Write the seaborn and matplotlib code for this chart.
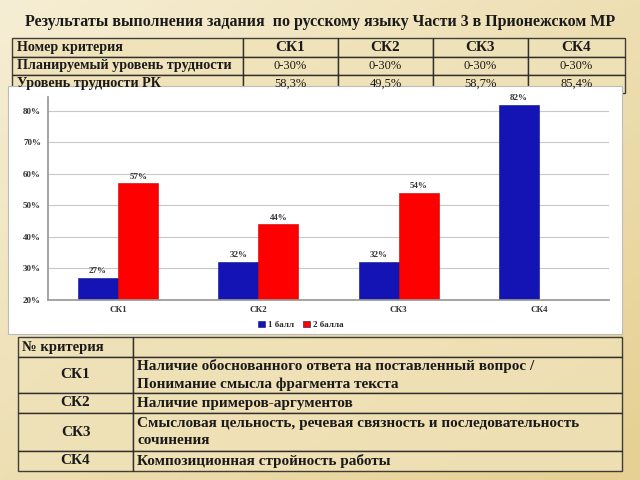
import numpy as np
import pandas as pd
import matplotlib
matplotlib.use("Agg")
import matplotlib.pyplot as plt
import seaborn as sns
from matplotlib.patches import Rectangle

sns.set_theme(style="white")
plt.rcParams['font.family'] = ['Liberation Serif', 'DejaVu Serif']

# ---- data ----
title = "Результаты выполнения задания  по русскому языку Части 3 в Прионежском МР"
categories = ["СК1", "СК2", "СК3", "СК4"]
series_names = ["1 балл", "2 балла"]
ball1 = [27, 32, 32, 82]
ball2 = [57, 44, 54, np.nan]
y_ticks = [20, 30, 40, 50, 60, 70, 80]

top_header = ["Номер критерия", "СК1", "СК2", "СК3", "СК4"]
top_planned = ["Планируемый уровень трудности", "0-30%", "0-30%", "0-30%", "0-30%"]
top_actual = ["Уровень трудности РК", "58,3%", "49,5%", "58,7%", "85,4%"]

bottom_header = ["№ критерия", ""]
crit_codes = ["СК1", "СК2", "СК3", "СК4"]
crit_desc = ["Наличие обоснованного ответа на поставленный вопрос /\nПонимание смысла фрагмента текста",
             "Наличие примеров-аргументов",
             "Смысловая цельность, речевая связность и последовательность\nсочинения",
             "Композиционная стройность работы"]

W, H = 640, 480
fig = plt.figure(figsize=(6.4, 4.8), dpi=100)

# background gradient
bg = fig.add_axes([0, 0, 1, 1])
xx, yy = np.meshgrid(np.linspace(0, 1, 200), np.linspace(0, 1, 200))
t = np.clip((xx * 0.5 + yy * 0.5), 0, 1)
c0 = np.array([246, 238, 212]) / 255
c1 = np.array([230, 208, 146]) / 255
img = c0[None, None, :] * (1 - t[..., None]) + c1[None, None, :] * t[..., None]
bg.imshow(img, extent=[0, W, H, 0], aspect='auto')
bg.set_xlim(0, W)
bg.set_ylim(H, 0)
bg.axis('off')

ink = "#1a1a1a"
bg.text(320, 22, title, ha='center', va='center', fontsize=11.5, fontweight='bold', color=ink)

# top table
cols = [12, 243, 338, 433, 528, 625]
rows = [38, 57, 75, 93]
cell_fill = "#f0e2b8"
for r, rowvals in enumerate([top_header, top_planned, top_actual]):
    for c in range(5):
        x0, x1 = cols[c], cols[c + 1]
        y0, y1 = rows[r], rows[r + 1]
        bg.add_patch(Rectangle((x0, y0), x1 - x0, y1 - y0, facecolor=cell_fill,
                               edgecolor="#222222", lw=1.0, alpha=0.85))
        if c == 0:
            bg.text(x0 + 5, (y0 + y1) / 2, rowvals[c], ha='left', va='center',
                    fontsize=10.2, fontweight='bold', color=ink)
        else:
            fs = 11 if r == 0 else 9
            bg.text((x0 + x1) / 2, (y0 + y1) / 2, rowvals[c], ha='center', va='center',
                    fontsize=fs, fontweight='bold' if r == 0 else 'normal', color=ink)

# bottom table
bcols = [18, 133, 622]
brows = [337, 357, 393, 413, 451, 471]
for r in range(5):
    y0, y1 = brows[r], brows[r + 1]
    if r == 0:
        texts = bottom_header
    else:
        texts = [crit_codes[r - 1], crit_desc[r - 1]]
    for c in range(2):
        x0, x1 = bcols[c], bcols[c + 1]
        bg.add_patch(Rectangle((x0, y0), x1 - x0, y1 - y0, facecolor=cell_fill,
                               edgecolor="#222222", lw=1.0, alpha=0.85))
    if r == 0:
        bg.text(bcols[0] + 4, (y0 + y1) / 2, texts[0], ha='left', va='center',
                fontsize=10.5, fontweight='bold', color=ink)
    else:
        bg.text((bcols[0] + bcols[1]) / 2, (y0 + y1) / 2, texts[0], ha='center', va='center',
                fontsize=11, fontweight='bold', color=ink)
        bg.text(bcols[1] + 4, (y0 + y1) / 2, texts[1], ha='left', va='center',
                fontsize=11, fontweight='bold', color=ink, linespacing=1.35)

# white chart panel
bg.add_patch(Rectangle((8, 86), 614, 248, facecolor='white', edgecolor='#bbbbbb', lw=0.8))

# chart
df = pd.DataFrame({
    "cat": categories * 2,
    "series": [series_names[0]] * 4 + [series_names[1]] * 4,
    "value": ball1 + ball2,
})
ax = fig.add_axes([48 / W, 1 - 300 / H, (609 - 48) / W, (300 - 97) / H])
sns.barplot(data=df, x="cat", y="value", hue="series", order=categories,
            hue_order=series_names, palette=["#1414b4", "#ff0000"],
            width=0.572, saturation=1, ax=ax, edgecolor="#0a0a80", linewidth=0.4)
for cont, col in zip(ax.containers, ["#0a0a80", "#c00000"]):
    for p in cont:
        p.set_edgecolor(col)
ax.set_ylim(20, 84.4)
ax.set_xlim(-0.5, 3.5)
ax.set_yticks(y_ticks)
ax.set_yticklabels([f"{v}%" for v in y_ticks], fontsize=6.5, fontweight='bold', color='#333333')
ax.tick_params(axis='x', labelsize=6.5, colors='#333333', length=0, pad=4)
for lbl in ax.get_xticklabels():
    lbl.set_fontweight('bold')
ax.tick_params(axis='y', length=3, pad=2, colors='#333333')
ax.yaxis.grid(True, color='#c8c8c8', lw=0.8)
ax.set_axisbelow(True)
for s in ['top', 'right']:
    ax.spines[s].set_visible(False)
ax.spines['left'].set_color('#999999')
ax.spines['bottom'].set_color('#999999')
ax.set_xlabel("")
ax.set_ylabel("")
for cont in ax.containers:
    labels = ["" if np.isnan(v) else f"{v:.0f}%" for v in cont.datavalues]
    ax.bar_label(cont, labels=labels, fontsize=6.5, fontweight='bold', color='#333333', padding=2)
leg = ax.legend(loc='upper center', bbox_to_anchor=(0.45, -0.065), ncol=2, frameon=False,
                fontsize=6.5, handlelength=0.8, handleheight=0.6, handletextpad=0.3,
                columnspacing=1.0)
for txt in leg.get_texts():
    txt.set_fontweight('bold')

fig.savefig("out.png", dpi=100)
